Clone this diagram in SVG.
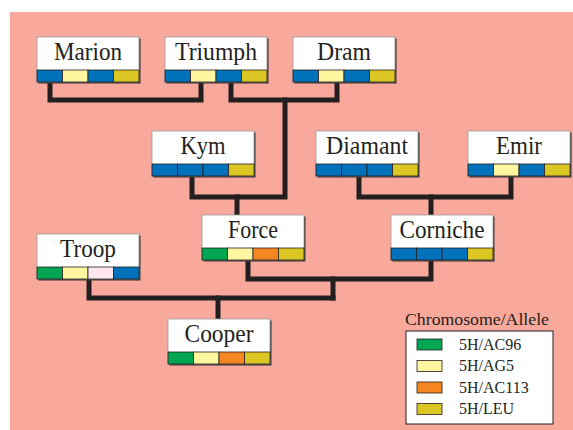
<svg xmlns="http://www.w3.org/2000/svg" width="573" height="430" viewBox="0 0 573 430">
<style>
.bg{fill:#f8a99c}
.sh{fill:#3a3535}
.box{fill:#fff;stroke:#9a9a9a;stroke-width:0.8}
.c{stroke:#231f20;stroke-width:0.8}
.B{fill:#0072bc}.Y{fill:#fff7a0}.D{fill:#dbc624}.G{fill:#00a651}.O{fill:#f6861f}.P{fill:#fde6ee}
.lbl{font-family:"Liberation Serif",serif;font-size:25px;fill:#231f20;text-anchor:middle}
.leg{font-family:"Liberation Serif",serif;font-size:16px;fill:#231f20}
.con{fill:none;stroke:#231f20;stroke-width:5;stroke-linejoin:miter;stroke-linecap:square}
</style>
<defs>
<g id="frame">
<rect class="sh" x="1.5" y="1.5" width="102" height="45"/>
<rect class="box" x="0" y="0" width="102" height="45"/>
</g>
</defs>
<rect class="bg" x="10" y="12" width="563" height="418"/>
<g id="connectors">
<path class="con" d="M50,84 V100 H201 V84"/>
<path class="con" d="M231,84 V100 H337 V84"/>
<path class="con" d="M285,100 V197 H192 V178"/>
<path class="con" d="M237,197 V213"/>
<path class="con" d="M359,178 V197 H511 V178"/>
<path class="con" d="M431,197 V213"/>
<path class="con" d="M248,262 V279 H431 V262"/>
<path class="con" d="M333,279 V298"/>
<path class="con" d="M89,281 V298 H333"/>
<path class="con" d="M218,298 V317"/>
</g>
<g id="marion" transform="translate(37,37)">
<use href="#frame"/>
<rect class="c B" x="0" y="33" width="25.5" height="12"/><rect class="c Y" x="25.5" y="33" width="25.5" height="12"/><rect class="c B" x="51" y="33" width="25.5" height="12"/><rect class="c D" x="76.5" y="33" width="25.5" height="12"/>
<text class="lbl" x="51" y="23" textLength="68" lengthAdjust="spacingAndGlyphs">Marion</text>
</g>
<g id="triumph" transform="translate(165,37)">
<use href="#frame"/>
<rect class="c B" x="0" y="33" width="25.5" height="12"/><rect class="c Y" x="25.5" y="33" width="25.5" height="12"/><rect class="c B" x="51" y="33" width="25.5" height="12"/><rect class="c D" x="76.5" y="33" width="25.5" height="12"/>
<text class="lbl" x="51" y="23" textLength="82" lengthAdjust="spacingAndGlyphs">Triumph</text>
</g>
<g id="dram" transform="translate(293,37)">
<use href="#frame"/>
<rect class="c B" x="0" y="33" width="25.5" height="12"/><rect class="c Y" x="25.5" y="33" width="25.5" height="12"/><rect class="c B" x="51" y="33" width="25.5" height="12"/><rect class="c D" x="76.5" y="33" width="25.5" height="12"/>
<text class="lbl" x="51" y="23" textLength="54" lengthAdjust="spacingAndGlyphs">Dram</text>
</g>
<g id="kym" transform="translate(152,131)">
<use href="#frame"/>
<rect class="c B" x="0" y="33" width="25.5" height="12"/><rect class="c B" x="25.5" y="33" width="25.5" height="12"/><rect class="c B" x="51" y="33" width="25.5" height="12"/><rect class="c D" x="76.5" y="33" width="25.5" height="12"/>
<text class="lbl" x="51" y="23" textLength="45" lengthAdjust="spacingAndGlyphs">Kym</text>
</g>
<g id="diamant" transform="translate(316,131)">
<use href="#frame"/>
<rect class="c B" x="0" y="33" width="25.5" height="12"/><rect class="c B" x="25.5" y="33" width="25.5" height="12"/><rect class="c B" x="51" y="33" width="25.5" height="12"/><rect class="c D" x="76.5" y="33" width="25.5" height="12"/>
<text class="lbl" x="51" y="23" textLength="82" lengthAdjust="spacingAndGlyphs">Diamant</text>
</g>
<g id="emir" transform="translate(468,131)">
<use href="#frame"/>
<rect class="c B" x="0" y="33" width="25.5" height="12"/><rect class="c Y" x="25.5" y="33" width="25.5" height="12"/><rect class="c B" x="51" y="33" width="25.5" height="12"/><rect class="c D" x="76.5" y="33" width="25.5" height="12"/>
<text class="lbl" x="51" y="23" textLength="46" lengthAdjust="spacingAndGlyphs">Emir</text>
</g>
<g id="force" transform="translate(202,215)">
<use href="#frame"/>
<rect class="c G" x="0" y="33" width="25.5" height="12"/><rect class="c Y" x="25.5" y="33" width="25.5" height="12"/><rect class="c O" x="51" y="33" width="25.5" height="12"/><rect class="c D" x="76.5" y="33" width="25.5" height="12"/>
<text class="lbl" x="51" y="23" textLength="50" lengthAdjust="spacingAndGlyphs">Force</text>
</g>
<g id="corniche" transform="translate(391,215)">
<use href="#frame"/>
<rect class="c B" x="0" y="33" width="25.5" height="12"/><rect class="c B" x="25.5" y="33" width="25.5" height="12"/><rect class="c B" x="51" y="33" width="25.5" height="12"/><rect class="c D" x="76.5" y="33" width="25.5" height="12"/>
<text class="lbl" x="51" y="23" textLength="85" lengthAdjust="spacingAndGlyphs">Corniche</text>
</g>
<g id="troop" transform="translate(37,234)">
<use href="#frame"/>
<rect class="c G" x="0" y="33" width="25.5" height="12"/><rect class="c Y" x="25.5" y="33" width="25.5" height="12"/><rect class="c P" x="51" y="33" width="25.5" height="12"/><rect class="c B" x="76.5" y="33" width="25.5" height="12"/>
<text class="lbl" x="51" y="23" textLength="56" lengthAdjust="spacingAndGlyphs">Troop</text>
</g>
<g id="cooper" transform="translate(168,319)">
<use href="#frame"/>
<rect class="c G" x="0" y="33" width="25.5" height="12"/><rect class="c Y" x="25.5" y="33" width="25.5" height="12"/><rect class="c O" x="51" y="33" width="25.5" height="12"/><rect class="c D" x="76.5" y="33" width="25.5" height="12"/>
<text class="lbl" x="51" y="23" textLength="69" lengthAdjust="spacingAndGlyphs">Cooper</text>
</g>
<g id="legend">
<text class="leg" x="405" y="325" textLength="144" lengthAdjust="spacingAndGlyphs">Chromosome/Allele</text>
<rect x="406" y="331" width="147" height="93" fill="#fff" stroke="#231f20" stroke-width="1"/>
<rect class="c G" x="417" y="339" width="25" height="11"/>
<rect class="c Y" x="417" y="360.5" width="25" height="11"/>
<rect class="c O" x="417" y="382" width="25" height="11"/>
<rect class="c D" x="417" y="403.5" width="25" height="11"/>
<text class="leg" x="459" y="349.5">5H/AC96</text>
<text class="leg" x="459" y="371">5H/AG5</text>
<text class="leg" x="459" y="392.5">5H/AC113</text>
<text class="leg" x="459" y="414">5H/LEU</text>
</g>
</svg>
